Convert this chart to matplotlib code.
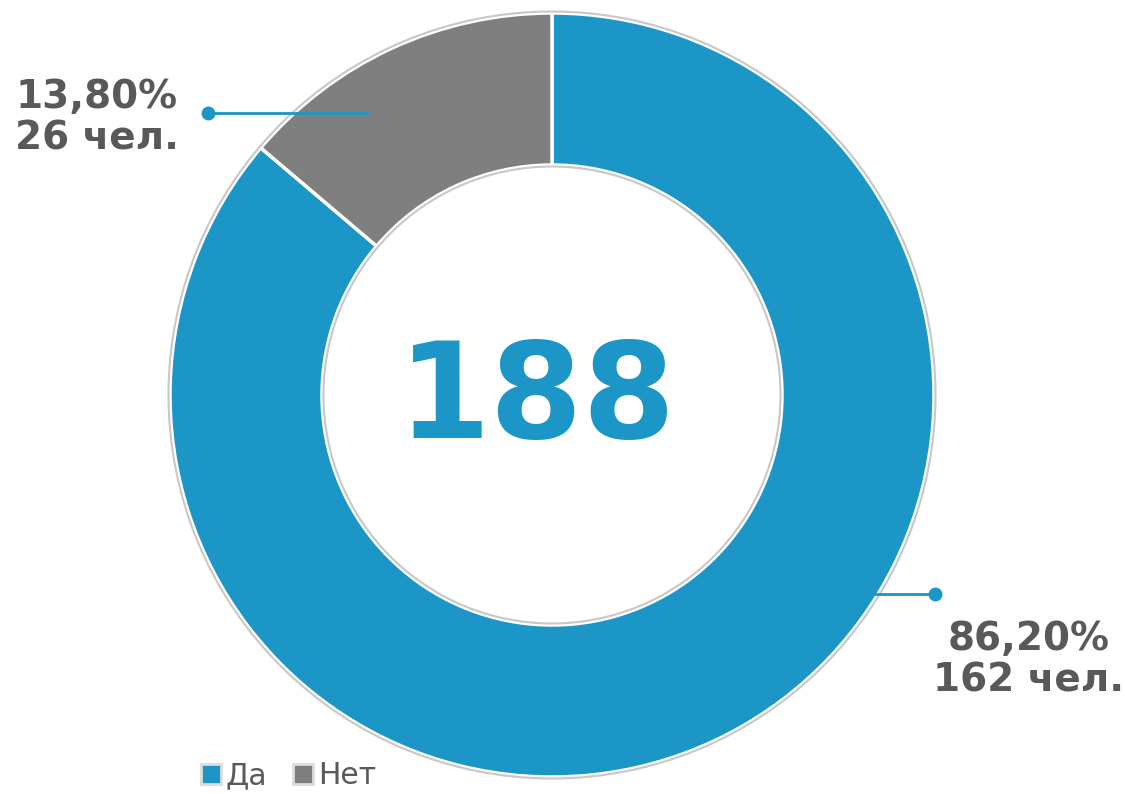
import matplotlib
matplotlib.use("Agg")
import matplotlib.pyplot as plt
from matplotlib.lines import Line2D
from matplotlib.patches import Circle

categories = ["Да", "Нет"]
percents = [86.20, 13.80]
counts = [162, 26]
total = 188
colors = ["#1B96C6", "#7F7F7F"]
text_color = "#595959"

W, H = 1125, 794
fig = plt.figure(figsize=(W / 100, H / 100), dpi=100)
ax = fig.add_axes([0, 0, 1, 1])
ax.set_xlim(0, W)
ax.set_ylim(0, H)
ax.set_aspect("equal")
ax.axis("off")

cx, cy = 552, H - 395
R_out, R_in = 382, 230

wedges, _ = ax.pie(percents, colors=colors, startangle=90, counterclock=False,
                   radius=R_out, center=(cx, cy), frame=True,
                   wedgeprops=dict(width=R_out - R_in, edgecolor="white", linewidth=2.5))
ax.set_xlim(0, W)
ax.set_ylim(0, H)
ax.axis("off")
ax.add_patch(Circle((cx, cy), R_out + 1.5, fill=False, edgecolor="#C8C8C8", linewidth=1.5, zorder=3))
ax.add_patch(Circle((cx, cy), R_in - 1.5, fill=False, edgecolor="#C8C8C8", linewidth=1.5, zorder=3))

ax.text(cx - 15, cy - 6, str(total), ha="center", va="center", fontsize=96,
        fontweight="bold", color=colors[0], family="DejaVu Sans")

# labels with leader lines
lbl_fs = 28
# Да
ax.plot([875, 935], [H - 594, H - 594], color=colors[0], lw=2, zorder=4)
ax.plot([935], [H - 594], "o", color=colors[0], ms=9, zorder=4)
ax.text(1029, H - 660, f"{percents[0]:.2f}%".replace(".", ",") + f"\n{counts[0]} чел.",
        ha="center", va="center", fontsize=lbl_fs, fontweight="bold", color=text_color,
        linespacing=1.12)
# Нет
ax.plot([367, 208], [H - 113, H - 113], color=colors[0], lw=2, zorder=4)
ax.plot([208], [H - 113], "o", color=colors[0], ms=9, zorder=4)
ax.text(97, H - 118, f"{percents[1]:.2f}%".replace(".", ",") + f"\n{counts[1]} чел.",
        ha="center", va="center", fontsize=lbl_fs, fontweight="bold", color=text_color,
        linespacing=1.12)

handles = [Line2D([], [], marker="s", linestyle="none", markersize=15,
                  markerfacecolor=c, markeredgecolor="#DDDDDD", markeredgewidth=2)
           for c in colors]
leg = fig.legend(handles, categories, loc="center left", bbox_to_anchor=(190 / W, 1 - 776 / H),
                 ncol=2, frameon=False, fontsize=21.5, handlelength=0.6, handletextpad=0.2,
                 columnspacing=0.9, labelcolor=text_color, borderaxespad=0)

fig.savefig("out.png", dpi=100)
